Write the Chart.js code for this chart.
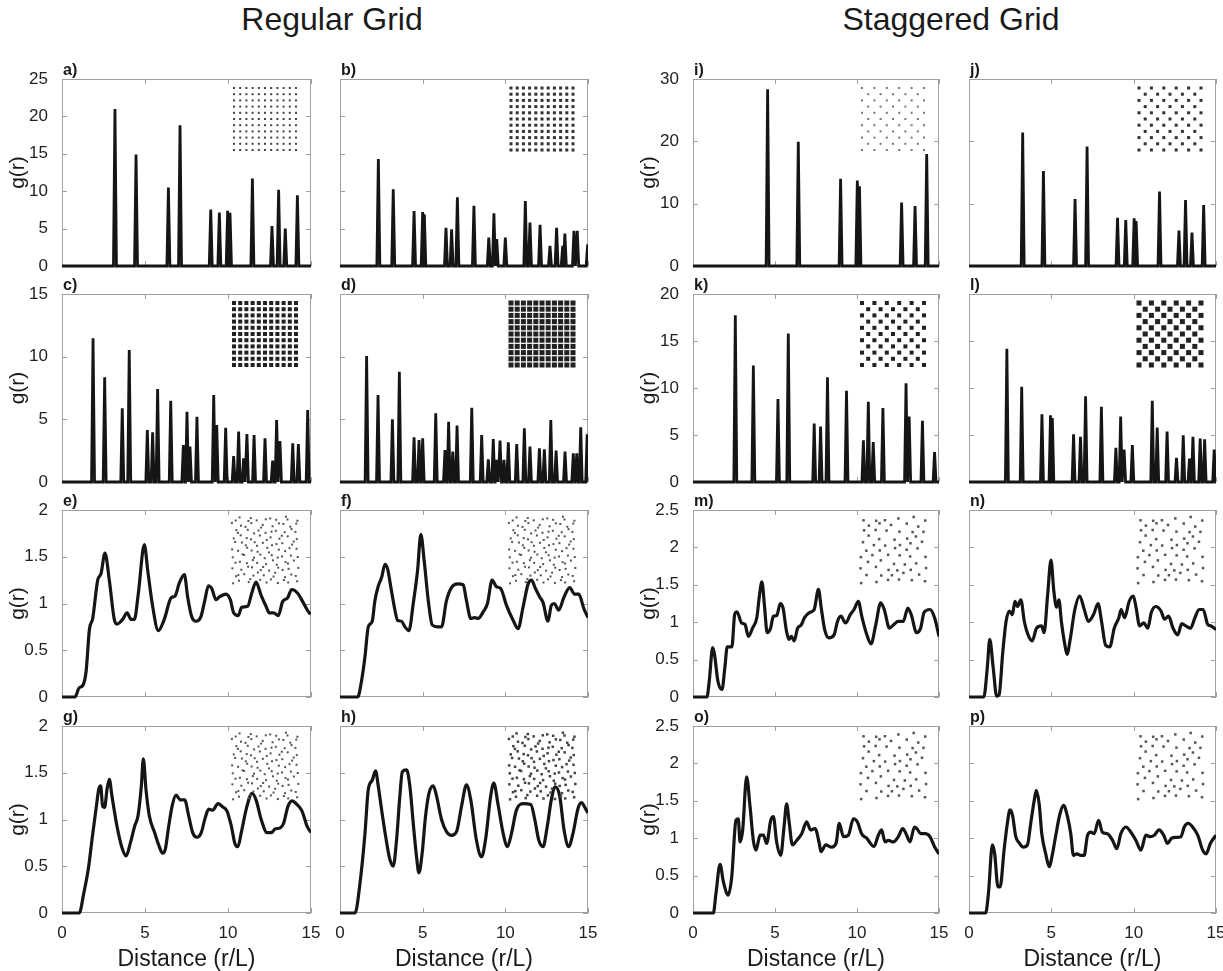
<!DOCTYPE html>
<html>
<head>
<meta charset="utf-8">
<script src="https://cdn.jsdelivr.net/npm/chart.js@4.4.1/dist/chart.umd.min.js"></script>
<style>
  body { margin: 0; background: #fff; width: 1223px; height: 971px; position: relative; overflow: hidden;
         font-family: "Liberation Sans", Arial, sans-serif; }
  .grp { position: absolute; top: 3px; font-size: 32px; line-height: 32px; color: #1a1a1a;
         transform: translateX(-50%); white-space: nowrap; }
  .lab { position: absolute; font-size: 16px; line-height: 16px; font-weight: bold; color: #1a1a1a; }
  canvas { position: absolute; }
</style>
</head>
<body>
<div class="grp" style="left:332px">Regular Grid</div>
<div class="grp" style="left:951px">Staggered Grid</div>
<script>
// tick values
const xTicks = [0, 5, 10, 15];
const yTicksAB = [0, 5, 10, 15, 20, 25];
const yTicksCD = [0, 5, 10, 15];
const yTicksEH = [0, 0.5, 1, 1.5, 2];
const yTicksIJ = [0, 10, 20, 30];
const yTicksKL = [0, 5, 10, 15, 20];
const yTicksMP = [0, 0.5, 1, 1.5, 2, 2.5];

// peaks [distance, g(r)] for the ordered grids
const aPeaks = [[3.19,21.0],[4.46,14.9],[6.41,10.5],[7.11,18.8],[8.96,7.55],[9.48,7.15],[9.98,7.38],[10.12,7.1],
  [11.47,11.7],[12.65,5.33],[13.05,10.2],[13.45,5.0],[14.18,9.47]];
const bPeaks = [[2.32,14.3],[3.22,10.25],[4.48,7.35],[5.0,7.2],[5.1,6.9],[6.41,5.1],[6.75,4.9],[7.1,9.2],[8.1,8.05],
  [9.0,3.8],[9.31,7.05],[9.48,3.6],[10.0,3.8],[11.21,8.7],[11.49,5.8],[12.1,5.5],[12.7,2.7],[13.1,5.1],[13.47,2.7],
  [13.6,4.35],[14.15,4.7],[14.35,4.7],[14.98,2.9]];
const cPeaks = [[1.87,11.47],[2.57,8.35],[3.63,5.88],[4.05,10.53],[5.14,4.15],[5.46,3.97],[5.76,7.42],[6.55,6.49],
  [7.31,2.95],[7.53,5.61],[7.71,2.82],[8.13,5.21],[9.14,6.94],[9.32,4.55],[9.86,4.33],[10.34,2.07],[10.64,4.02],
  [10.94,1.89],[11.14,3.83],[11.57,3.75],[12.23,3.49],[12.69,1.7],[12.93,4.95],[13.13,3.27],[13.9,3.09],[14.24,3.03],[14.8,5.75]];
const dPeaks = [[1.61,10.06],[2.3,6.94],[3.17,5.0],[3.59,8.8],[4.48,3.56],[4.78,3.35],[5.0,3.49],[5.79,5.48],[6.35,2.55],
  [6.57,4.81],[6.82,2.42],[7.08,4.5],[7.97,5.93],[8.57,3.75],[8.97,1.81],[9.27,3.43],[9.48,1.76],[9.68,3.3],[9.92,1.76],
  [10.18,3.17],[10.69,3.03],[11.15,4.28],[11.49,2.82],[12.06,2.69],[12.36,2.61],[12.75,4.95],[13.07,2.5],[13.61,2.42],
  [14.11,2.29],[14.32,2.29],[14.56,4.36],[14.95,3.8]];
const iPeaks = [[4.55,28.35],[6.42,19.95],[9.0,14.0],[10.02,13.7],[10.15,12.8],[12.72,10.2],[13.54,9.63],[14.25,17.98]];
const jPeaks = [[3.26,21.4],[4.52,15.25],[6.44,10.75],[7.17,19.15],[9.02,7.75],[9.52,7.38],[10.03,7.65],[10.15,7.2],
  [11.57,11.93],[12.75,5.67],[13.15,10.6],[13.54,5.35],[14.25,9.8]];
const kPeaks = [[2.58,17.75],[3.68,12.39],[5.18,8.82],[5.81,15.79],[7.39,6.21],[7.78,5.89],[8.2,11.14],[9.36,9.71],
  [10.39,4.43],[10.69,8.54],[10.99,4.25],[11.58,7.86],[12.99,10.5],[13.18,6.96],[13.99,6.5],[14.73,3.18]];
const lPeaks = [[2.3,14.18],[3.2,10.14],[4.43,7.21],[4.95,7.11],[5.06,6.8],[6.35,5.07],[6.77,4.82],[7.08,9.11],[8.04,8.0],
  [8.92,3.64],[9.21,6.96],[9.42,3.46],[9.92,3.93],[11.13,8.64],[11.43,5.79],[12.03,5.36],[12.6,2.57],[13.01,4.96],
  [13.39,2.5],[13.6,4.82],[14.04,4.61],[14.31,4.54],[14.89,3.46]];

// curves [distance, g(r)] for the perturbed grids
const eCurve = [[0,0],[0.78,0],[1.04,0.1],[1.24,0.12],[1.45,0.27],[1.65,0.72],[1.85,0.84],[2.15,1.25],[2.35,1.32],[2.59,1.54],
  [2.85,1.25],[3.15,0.83],[3.31,0.78],[3.65,0.83],[3.92,0.9],[4.16,0.83],[4.36,0.83],[4.6,1.11],[4.96,1.63],[5.16,1.36],
  [5.46,0.97],[5.8,0.71],[6.16,0.83],[6.57,1.06],[6.81,1.08],[7.07,1.22],[7.37,1.31],[7.57,1.07],[7.81,0.86],[8.07,0.81],
  [8.37,0.86],[8.61,1.04],[8.82,1.19],[9.02,1.16],[9.28,1.04],[9.48,1.07],[9.88,1.1],[10.14,1.04],[10.34,0.9],[10.62,0.87],
  [10.82,0.96],[11.18,0.97],[11.43,1.11],[11.69,1.23],[11.99,1.09],[12.29,0.97],[12.49,0.9],[12.75,0.9],[13.03,0.87],
  [13.29,1.02],[13.59,1.06],[13.84,1.15],[14.2,1.11],[14.5,1.02],[14.9,0.9],[15,0.89]];
const fCurve = [[0,0],[1.07,0],[1.31,0.18],[1.51,0.43],[1.71,0.75],[1.95,0.81],[2.11,1.03],[2.32,1.19],[2.52,1.28],[2.72,1.42],
  [2.88,1.37],[3.08,1.17],[3.32,0.93],[3.48,0.82],[3.72,0.81],[3.93,0.75],[4.17,0.71],[4.43,1.0],[4.69,1.35],[4.89,1.74],
  [5.09,1.46],[5.34,1.03],[5.58,0.77],[5.9,0.75],[6.14,0.75],[6.44,1.03],[6.74,1.17],[7.11,1.21],[7.45,1.2],[7.65,1.03],
  [7.91,0.84],[8.15,0.85],[8.36,0.84],[8.66,0.91],[8.92,1.0],[9.2,1.25],[9.46,1.18],[9.72,1.16],[10.07,0.98],[10.47,0.82],
  [10.77,0.73],[11.07,0.96],[11.38,1.21],[11.58,1.25],[11.82,1.16],[12.08,1.07],[12.28,1.01],[12.58,0.81],[12.78,0.98],
  [12.95,1.0],[13.23,0.93],[13.55,1.07],[13.89,1.17],[14.19,1.1],[14.44,1.1],[14.76,0.94],[15,0.85]];
const gCurve = [[0,0],[1.04,0],[1.31,0.21],[1.61,0.5],[1.81,0.79],[2.07,1.14],[2.21,1.32],[2.33,1.36],[2.45,1.14],[2.57,1.13],
  [2.71,1.32],[2.85,1.43],[3.01,1.25],[3.31,0.93],[3.61,0.7],[3.86,0.61],[4.12,0.75],[4.38,0.93],[4.58,1.04],[4.78,1.36],
  [4.9,1.65],[5.06,1.32],[5.26,1.04],[5.58,0.86],[5.82,0.73],[6.06,0.64],[6.22,0.68],[6.43,0.93],[6.63,1.14],[6.87,1.26],
  [7.13,1.21],[7.39,1.21],[7.63,1.04],[7.87,0.86],[8.13,0.81],[8.39,0.86],[8.63,1.02],[8.84,1.11],[9.08,1.1],[9.4,1.17],
  [9.64,1.14],[9.94,1.09],[10.2,0.93],[10.44,0.73],[10.6,0.71],[10.8,0.86],[11.14,1.14],[11.45,1.28],[11.69,1.21],[12.0,1.0],
  [12.35,0.86],[12.61,0.86],[12.85,0.9],[13.15,0.91],[13.35,0.96],[13.61,1.14],[13.86,1.2],[14.16,1.16],[14.46,1.09],
  [14.76,0.93],[15,0.86]];
const hCurve = [[0,0],[0.91,0],[1.21,0.32],[1.51,0.85],[1.71,1.32],[1.95,1.42],[2.15,1.52],[2.32,1.35],[2.52,1.1],[2.76,0.82],
  [3.02,0.57],[3.22,0.5],[3.42,0.78],[3.62,1.25],[3.77,1.51],[4.03,1.53],[4.23,1.35],[4.43,0.96],[4.63,0.6],[4.77,0.43],
  [4.97,0.64],[5.17,1.03],[5.38,1.28],[5.64,1.36],[5.84,1.25],[6.14,1.0],[6.44,0.87],[6.74,0.83],[7.05,0.87],[7.35,1.14],
  [7.65,1.37],[7.91,1.21],[8.25,0.78],[8.56,0.6],[8.8,0.78],[9.12,1.26],[9.3,1.39],[9.56,1.16],[9.87,0.85],[10.13,0.71],
  [10.37,0.85],[10.67,1.1],[11.07,1.17],[11.54,1.16],[11.78,1.0],[12.02,0.78],[12.28,0.71],[12.54,0.93],[12.78,1.21],
  [13.02,1.35],[13.29,1.25],[13.55,0.89],[13.83,0.71],[14.09,0.85],[14.4,1.12],[14.6,1.18],[14.84,1.12],[15,1.07]];
const mCurve = [[0,0],[0.85,0],[0.99,0.21],[1.2,0.66],[1.31,0.57],[1.52,0.21],[1.77,0.1],[1.94,0.39],[2.09,0.67],[2.37,0.67],
  [2.54,1.1],[2.68,1.14],[2.96,0.99],[3.17,0.97],[3.38,0.81],[3.63,0.92],[3.89,1.06],[4.06,1.37],[4.2,1.54],[4.37,1.19],
  [4.52,0.86],[4.73,0.92],[4.9,1.08],[5.11,1.09],[5.32,1.25],[5.49,1.19],[5.7,0.88],[5.85,0.77],[6.0,0.81],[6.17,0.75],
  [6.38,0.92],[6.59,0.96],[6.8,1.06],[7.12,1.13],[7.39,1.17],[7.65,1.44],[7.82,1.19],[8.03,0.9],[8.28,0.79],[8.6,0.83],
  [8.81,1.01],[9.02,1.08],[9.3,0.99],[9.59,1.1],[9.82,1.17],[10.08,1.28],[10.29,1.08],[10.56,0.86],[10.86,0.71],[11.13,0.95],
  [11.45,1.26],[11.66,1.17],[11.98,0.92],[12.25,0.97],[12.51,1.01],[12.82,1.01],[13.1,1.19],[13.31,1.1],[13.63,0.86],
  [13.88,0.92],[14.09,1.13],[14.45,1.17],[14.73,1.06],[15,0.81]];
const nCurve = [[0,0],[0.9,0],[1.11,0.39],[1.26,0.77],[1.47,0.39],[1.68,0.01],[1.83,0.03],[2.04,0.57],[2.25,1.01],[2.46,1.15],
  [2.63,1.1],[2.79,1.28],[2.94,1.21],[3.15,1.3],[3.36,1.01],[3.57,0.84],[3.84,0.75],[4.1,0.92],[4.41,0.95],[4.56,0.86],
  [4.77,1.35],[4.98,1.83],[5.15,1.42],[5.32,1.2],[5.46,1.3],[5.61,1.01],[5.82,0.7],[5.95,0.57],[6.16,0.79],[6.41,1.15],
  [6.72,1.35],[7.0,1.17],[7.25,1.01],[7.56,1.1],[7.84,1.25],[8.05,1.01],[8.3,0.69],[8.55,0.67],[8.82,0.92],[9.1,1.06],
  [9.24,1.17],[9.45,1.06],[9.73,1.28],[9.98,1.35],[10.15,1.19],[10.36,0.95],[10.61,0.99],[10.86,0.92],[11.07,1.13],
  [11.34,1.21],[11.66,1.15],[11.87,1.04],[12.12,1.08],[12.39,0.92],[12.67,0.83],[12.92,0.98],[13.17,0.95],[13.45,0.92],
  [13.72,1.06],[13.97,1.17],[14.22,1.17],[14.5,0.97],[14.71,0.95],[15,0.9]];
const oCurve = [[0,0],[1.24,0],[1.4,0.26],[1.65,0.65],[1.85,0.42],[2.15,0.24],[2.36,0.48],[2.62,1.24],[2.76,1.26],[2.87,0.95],
  [3.03,1.11],[3.27,1.82],[3.48,1.42],[3.68,0.97],[3.84,0.84],[4.09,1.04],[4.29,1.04],[4.49,0.93],[4.74,1.24],[4.9,1.29],
  [5.1,0.95],[5.35,0.77],[5.55,1.15],[5.71,1.46],[5.87,1.2],[6.06,0.91],[6.32,0.97],[6.63,1.06],[6.93,1.22],[7.17,1.11],
  [7.44,1.13],[7.7,0.93],[7.8,0.82],[8.1,0.91],[8.45,0.88],[8.72,0.93],[8.92,1.2],[9.17,1.02],[9.47,1.04],[9.78,1.26],
  [10.02,1.22],[10.28,1.06],[10.59,1.0],[11.04,0.89],[11.3,1.04],[11.5,1.11],[11.71,0.95],[11.91,0.97],[12.22,0.95],
  [12.52,1.02],[12.79,1.13],[12.99,1.06],[13.23,0.95],[13.5,1.15],[13.68,1.12],[13.88,1.06],[14.15,1.06],[14.45,1.02],
  [14.72,0.89],[15,0.79]];
const pCurve = [[0,0],[1.01,0],[1.18,0.26],[1.42,0.91],[1.56,0.79],[1.76,0.35],[1.89,0.35],[2.13,0.84],[2.33,1.2],[2.49,1.38],
  [2.64,1.31],[2.84,1.02],[3.04,0.94],[3.3,0.88],[3.55,0.91],[3.75,1.2],[3.95,1.49],[4.09,1.64],[4.26,1.46],[4.42,1.06],
  [4.66,0.79],[4.87,0.62],[5.07,0.79],[5.27,1.04],[5.53,1.33],[5.74,1.44],[5.98,1.29],[6.18,1.06],[6.34,0.77],[6.55,0.79],
  [6.79,0.77],[6.99,0.77],[7.2,1.04],[7.4,1.08],[7.6,1.06],[7.87,1.24],[8.1,1.08],[8.41,1.06],[8.72,0.97],[8.98,0.86],
  [9.22,1.06],[9.53,1.15],[9.83,1.08],[10.14,0.97],[10.44,0.84],[10.74,1.04],[11.01,1.02],[11.25,1.04],[11.55,1.11],
  [11.82,1.04],[12.06,0.93],[12.3,1.0],[12.57,1.01],[12.87,1.02],[13.07,1.15],[13.32,1.2],[13.58,1.15],[13.89,1.04],
  [14.19,0.84],[14.39,0.79],[14.66,0.93],[15,1.04]];

// plot boxes on the page
const colLeft = [62, 340, 693, 969];
const colWidth = [249, 248, 246, 247];
const rowTop = [79, 294, 510, 726];
const rowHeight = [187, 188, 187, 187];
const FONT = '"Liberation Sans", Arial, sans-serif';
const HALF = 0.09; // half base width of a spike

// inset: [layout, jitter, dot size, colour]
const panels = [
  { id: 'a', col: 0, row: 0, peaks: aPeaks, yt: yTicksAB, inset: ['reg', 0, 2, '#444'] },
  { id: 'b', col: 1, row: 0, peaks: bPeaks, yt: yTicksAB, inset: ['reg', 0, 3, '#333'] },
  { id: 'c', col: 0, row: 1, peaks: cPeaks, yt: yTicksCD, inset: ['reg', 0, 4, '#222'] },
  { id: 'd', col: 1, row: 1, peaks: dPeaks, yt: yTicksCD, inset: ['reg', 0, 5, '#222'] },
  { id: 'e', col: 0, row: 2, curve: eCurve, yt: yTicksEH, inset: ['reg', 0.9, 2, '#555'] },
  { id: 'f', col: 1, row: 2, curve: fCurve, yt: yTicksEH, inset: ['reg', 0.9, 2, '#555'] },
  { id: 'g', col: 0, row: 3, curve: gCurve, yt: yTicksEH, inset: ['reg', 0.9, 2, '#555'] },
  { id: 'h', col: 1, row: 3, curve: hCurve, yt: yTicksEH, inset: ['reg', 0.9, 2.5, '#444'] },
  { id: 'i', col: 2, row: 0, peaks: iPeaks, yt: yTicksIJ, inset: ['stag', 0, 2, '#777'] },
  { id: 'j', col: 3, row: 0, peaks: jPeaks, yt: yTicksIJ, inset: ['stag', 0, 3, '#333'] },
  { id: 'k', col: 2, row: 1, peaks: kPeaks, yt: yTicksKL, inset: ['stag', 0, 4, '#222'] },
  { id: 'l', col: 3, row: 1, peaks: lPeaks, yt: yTicksKL, inset: ['stag', 0, 5, '#222'] },
  { id: 'm', col: 2, row: 2, curve: mCurve, yt: yTicksMP, inset: ['stag', 0.8, 2.5, '#555'] },
  { id: 'n', col: 3, row: 2, curve: nCurve, yt: yTicksMP, inset: ['stag', 0.8, 2.5, '#555'] },
  { id: 'o', col: 2, row: 3, curve: oCurve, yt: yTicksMP, inset: ['stag', 0.8, 2.5, '#555'] },
  { id: 'p', col: 3, row: 3, curve: pCurve, yt: yTicksMP, inset: ['stag', 0.8, 2.5, '#555'] },
];

function spikeLine(peaks) {
  const pts = [{ x: 0, y: 0 }];
  peaks.forEach(([x, h]) => {
    pts.push({ x: x - HALF, y: 0 }, { x: x, y: h }, { x: x + HALF, y: 0 });
  });
  pts.push({ x: 15, y: 0 });
  return pts;
}

// fixed offsets for the disordered inset patterns
const JIT = [0.31, -0.22, 0.05, -0.38, 0.27, -0.11, 0.42, -0.29, 0.14, -0.05, 0.36, -0.41, 0.2, -0.17, 0.09, -0.33, 0.25];

function drawInset(ctx, area, spec) {
  const [kind, jit, dot, color] = spec;
  const size = 62, n = 11, sp = size / (n - 1);
  const x0 = area.right - 15 - size, y0 = area.top + 9;
  ctx.save();
  ctx.fillStyle = color;
  for (let i = 0; i < n; i++) {
    for (let j = 0; j < n; j++) {
      if (kind === 'stag' && (i + j) % 2) continue;
      const dx = jit ? JIT[(i * 5 + j * 3) % 17] * sp * jit : 0;
      const dy = jit ? JIT[(i * 3 + j * 7 + 4) % 17] * sp * jit : 0;
      ctx.fillRect(x0 + i * sp + dx - dot / 2, y0 + j * sp + dy - dot / 2, dot, dot);
    }
  }
  ctx.restore();
}

const framePlugin = {
  id: 'frame',
  beforeDatasetsDraw(chart) {
    const { ctx, chartArea: a, scales: { x, y } } = chart;
    ctx.save();
    ctx.strokeStyle = '#a0a0a0';
    ctx.lineWidth = 1;
    ctx.strokeRect(a.left + 0.5, a.top + 0.5, a.width - 1, a.height - 1);
    ctx.beginPath();
    x.ticks.forEach(t => {
      const px = Math.round(x.getPixelForValue(t.value)) + 0.5;
      ctx.moveTo(px, a.top); ctx.lineTo(px, a.top + 5);
      ctx.moveTo(px, a.bottom); ctx.lineTo(px, a.bottom - 5);
    });
    y.ticks.forEach(t => {
      const py = Math.round(y.getPixelForValue(t.value)) + 0.5;
      ctx.moveTo(a.left, py); ctx.lineTo(a.left + 5, py);
      ctx.moveTo(a.right, py); ctx.lineTo(a.right - 5, py);
    });
    ctx.stroke();
    ctx.restore();
  },
  afterDatasetsDraw(chart, args, opts) {
    if (opts.inset) drawInset(chart.ctx, chart.chartArea, opts.inset);
  }
};

const PT = 12, PR = 14;

panels.forEach(p => {
  const leftCol = p.col === 0 || p.col === 2;
  const bottom = p.row === 3;
  const yw = leftCol ? 56 : 4;
  const xh = bottom ? 60 : 12;
  const L = colLeft[p.col], W = colWidth[p.col];
  const T = rowTop[p.row], H = rowHeight[p.row];

  const cv = document.createElement('canvas');
  cv.width = yw + W + PR;
  cv.height = PT + H + xh;
  cv.style.left = (L - yw) + 'px';
  cv.style.top = (T - PT) + 'px';
  document.body.appendChild(cv);

  const lab = document.createElement('div');
  lab.className = 'lab';
  lab.textContent = p.id + ')';
  lab.style.left = (L + 1) + 'px';
  lab.style.top = (T - 17) + 'px';
  document.body.appendChild(lab);

  const spiky = !!p.peaks;
  const pts = spiky ? spikeLine(p.peaks) : p.curve.map(([x, y]) => ({ x, y }));
  const yt = p.yt;

  new Chart(cv, {
    type: 'line',
    data: {
      datasets: [{
        data: pts,
        borderColor: '#151515',
        borderWidth: spiky ? 2.8 : 3.2,
        pointRadius: 0,
        tension: 0,
        cubicInterpolationMode: spiky ? 'default' : 'monotone',
        fill: false,
        clip: { left: 0, top: false, right: 0, bottom: 4 }
      }]
    },
    options: {
      responsive: false,
      animation: false,
      events: [],
      layout: { padding: { left: 0, right: PR, top: PT, bottom: 0 } },
      plugins: {
        legend: { display: false },
        tooltip: { enabled: false },
        frame: { inset: p.inset }
      },
      scales: {
        x: {
          type: 'linear', min: 0, max: 15,
          afterBuildTicks: s => { s.ticks = xTicks.map(v => ({ value: v })); },
          afterFit: s => { s.height = xh; s.paddingLeft = 0; s.paddingRight = 0; },
          grid: { display: false },
          border: { display: false },
          ticks: { display: bottom, padding: 2, color: '#222', font: { size: 17, family: FONT },
                   callback: v => String(v) },
          title: { display: bottom, text: 'Distance (r/L)', color: '#1a1a1a',
                   font: { size: 23, family: FONT }, padding: { top: 0, bottom: 0 } }
        },
        y: {
          type: 'linear', min: yt[0], max: yt[yt.length - 1],
          afterBuildTicks: s => { s.ticks = yt.map(v => ({ value: v })); },
          afterFit: s => { s.width = yw; s.paddingTop = 0; s.paddingBottom = 0; },
          grid: { display: false },
          border: { display: false },
          ticks: { display: leftCol, padding: 6, color: '#222', font: { size: 17, family: FONT },
                   callback: v => String(v) },
          title: { display: leftCol, text: 'g(r)', color: '#1a1a1a',
                   font: { size: 21, family: FONT }, padding: { top: 0, bottom: 0 } }
        }
      }
    },
    plugins: [framePlugin]
  });
});
</script>
</body>
</html>
